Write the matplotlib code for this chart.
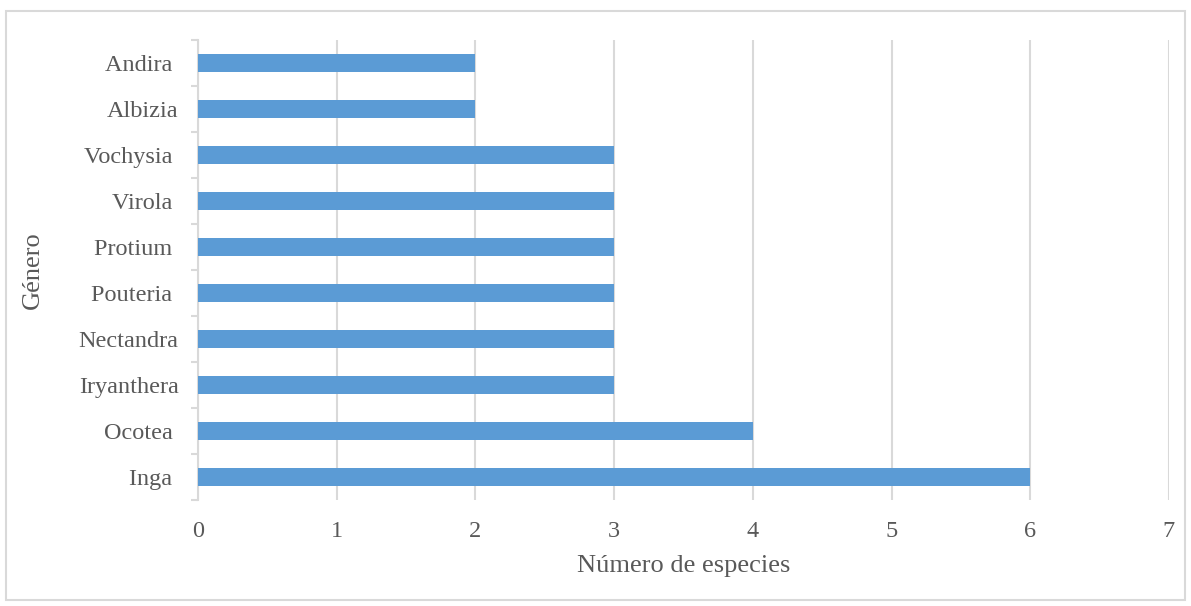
import matplotlib
matplotlib.use("Agg")
import matplotlib.pyplot as plt
from matplotlib.patches import Rectangle

# Species count per genus
generos = ["Inga ", "Ocotea ", "Iryanthera", "Nectandra", "Pouteria ",
           "Protium ", "Virola ", "Vochysia ", "Albizia", "Andira "]
especies = [6, 4, 3, 3, 3, 3, 3, 3, 2, 2]
xticks = [0, 1, 2, 3, 4, 5, 6, 7]

BAR = "#5B9BD5"
TXT = "#595959"
GRID = "#D9D9D9"

plt.rcParams["font.family"] = ["Liberation Serif", "DejaVu Serif"]

fig = plt.figure(figsize=(11.91, 6.06), dpi=100)
W, H = 1191, 606
ax = fig.add_axes([198 / W, 1 - 500 / H, (1169 - 198) / W, (500 - 40) / H])

pos = list(range(len(generos)))
ax.barh(pos, especies, height=0.37, color=BAR, zorder=3)

ax.set_xlim(0, 7)
ax.set_ylim(-0.5, len(generos) - 0.5)
ax.set_xticks(xticks)
ax.set_xticklabels([str(t) for t in xticks])
ax.set_yticks(pos)
ax.set_yticklabels(generos)
ax.xaxis.grid(True, color=GRID, linewidth=1.5, zorder=0)

for s in ["top", "right", "bottom"]:
    ax.spines[s].set_visible(False)
ax.spines["left"].set_color(GRID)
ax.spines["left"].set_linewidth(1.5)

ax.tick_params(axis="x", length=0, pad=15, labelsize=17.5, labelcolor=TXT)
ax.tick_params(axis="y", length=0, pad=14, labelsize=17.5, labelcolor=TXT)

# category boundary ticks on the y axis
ax.set_yticks([p - 0.5 for p in pos] + [len(generos) - 0.5], minor=True)
ax.tick_params(axis="y", which="minor", length=5, width=1.5, color=GRID)

ax.set_xlabel("Número de especies", fontsize=19, color=TXT)
ax.set_ylabel("Género", fontsize=19, color=TXT)
ax.xaxis.set_label_coords(0.5, -(566 - 500) / 460, transform=ax.transAxes)
ax.xaxis.label.set_verticalalignment("center")
ax.yaxis.set_label_coords(-(198 - 33) / 971, 0.5, transform=ax.transAxes)
ax.yaxis.label.set_verticalalignment("center")

# figure frame
fig.patches.append(Rectangle((6 / W, 6 / H), 1 - 12 / W, 1 - 17 / H,
                             transform=fig.transFigure, fill=False,
                             edgecolor=GRID, linewidth=1.5))

fig.savefig("out.png", dpi=100)
